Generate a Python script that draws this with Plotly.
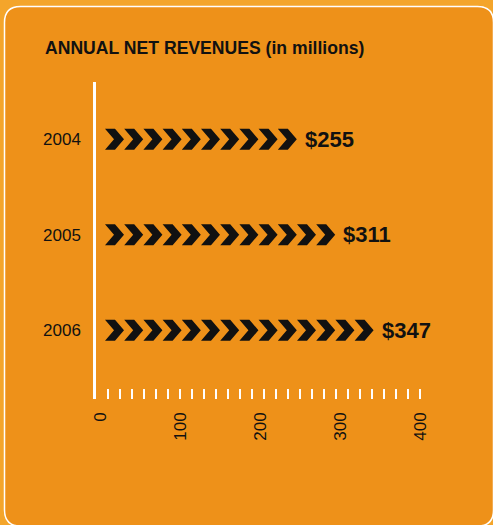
import numpy as np
import plotly.graph_objects as go

# ---- data ----
years = [2004, 2005, 2006]
revenues = [255, 311, 347]
value_labels = ["$255", "$311", "$347"]
axis_tick_values = [0, 100, 200, 300, 400]
axis_tick_labels = ["0", "100", "200", "300", "400"]
title_text = "ANNUAL NET REVENUES (in millions)"

# ---- style ----
W, H = 493, 525
ML, MR, MT, MB = 96, 69, 82, 126
PW, PH = W - ML - MR, H - MT - MB
XMAX = 410
YR = [2006.72, 2003.4]  # reversed (top = 2003.4)
px_per_x = PW / XMAX
px_per_y = PH / (YR[0] - YR[1])

INNER = "#EE9119"
OUTER = "#F4A52B"
FONT = "Liberation Sans, Arial, Helvetica, sans-serif"

per_chevron = 25          # revenue represented by one chevron
start_px, pitch_px = 9.0, 19.2
arm_px, tip_px, half_h_px = 10.0, 9.0, 10.5

# chevron polygons computed from the values through axis scales
cx, cy = [], []
ends = []
for yr, v in zip(years, revenues):
    n = int(round(v / per_chevron))
    for i in range(n):
        x0 = (start_px + i * pitch_px) / px_per_x
        a = arm_px / px_per_x
        d = tip_px / px_per_x
        h = half_h_px / px_per_y
        cx += [x0, x0 + a, x0 + a + d, x0 + a, x0, x0 + d, x0, None]
        cy += [yr - h, yr - h, yr, yr + h, yr + h, yr, yr - h, None]
    ends.append((start_px + (n - 1) * pitch_px + arm_px + tip_px) / px_per_x)

fig = go.Figure()
# underlying data bars (invisible), on label axis
fig.add_trace(go.Bar(x=revenues, y=years, orientation="h", xaxis="x2",
                     marker=dict(color="rgba(0,0,0,0)", line=dict(width=0)), width=0.2,
                     hovertemplate="%{y}: $%{x}M<extra></extra>", showlegend=False))
fig.add_trace(go.Scatter(x=cx, y=cy, mode="lines", fill="toself",
                         fillcolor="#111111", line=dict(width=0, color="#111111"),
                         hoverinfo="skip", showlegend=False))

for yr, e, lab in zip(years, ends, value_labels):
    fig.add_annotation(x=e, y=yr, xref="x", yref="y", text=lab, showarrow=False,
                       xanchor="left", yanchor="middle", xshift=6,
                       font=dict(family=FONT, size=22, color="#111111", weight="bold"))

# rounded background panel (pixel -> paper conversion)
def fx(p):
    return (p - ML) / PW

def fy(p):
    return 1 - (p - MT) / PH

L, R, T, B, r = 4.5, 493.5, 6.5, 526, 16
path = (f"M {fx(L)} {fy(T + r)} Q {fx(L)} {fy(T)} {fx(L + r)} {fy(T)} "
        f"L {fx(R - r)} {fy(T)} Q {fx(R)} {fy(T)} {fx(R)} {fy(T + r)} "
        f"L {fx(R)} {fy(B - r)} Q {fx(R)} {fy(B)} {fx(R - r)} {fy(B)} "
        f"L {fx(L + r)} {fy(B)} Q {fx(L)} {fy(B)} {fx(L)} {fy(B - r)} Z")
fig.add_shape(type="path", path=path, xref="paper", yref="paper", layer="below",
              fillcolor=INNER, line=dict(color="white", width=1.5))

minor_ticks = list(np.arange(15, 406, 15))

fig.update_layout(
    width=W, height=H,
    margin=dict(l=ML, r=MR, t=MT, b=MB, pad=0),
    paper_bgcolor=OUTER, plot_bgcolor="rgba(0,0,0,0)",
    title=dict(text=title_text, x=45 / W, xanchor="left", y=1 - 47.5 / H, yanchor="middle",
               xref="container", yref="container",
               font=dict(family=FONT, size=17.6, color="#111111", weight="bold")),
    xaxis=dict(range=[0, XMAX], tickmode="array", tickvals=minor_ticks, ticks="inside",
               ticklen=10, tickwidth=2, tickcolor="white", showticklabels=False,
               showgrid=False, zeroline=False, showline=False, fixedrange=True),
    xaxis2=dict(range=[0, XMAX], overlaying="x", side="bottom", anchor="y",
                tickmode="array", tickvals=axis_tick_values, ticktext=axis_tick_labels,
                ticks="", tickangle=-90, ticklabelstandoff=9, ticklabelshift=4,
                tickfont=dict(family=FONT, size=17, color="#111111"),
                showgrid=False, zeroline=False, showline=False, fixedrange=True),
    yaxis=dict(range=YR, tickmode="array", tickvals=years, ticktext=[str(y) for y in years],
               ticks="", ticklabelstandoff=9, showgrid=False, zeroline=False,
               showline=True, linecolor="white", linewidth=2.5,
               tickfont=dict(family=FONT, size=17, color="#111111"), fixedrange=True),
    bargap=0.8,
)

fig.write_html("out.html", config={"displayModeBar": False},
               post_script="document.body.style.margin='0';")
